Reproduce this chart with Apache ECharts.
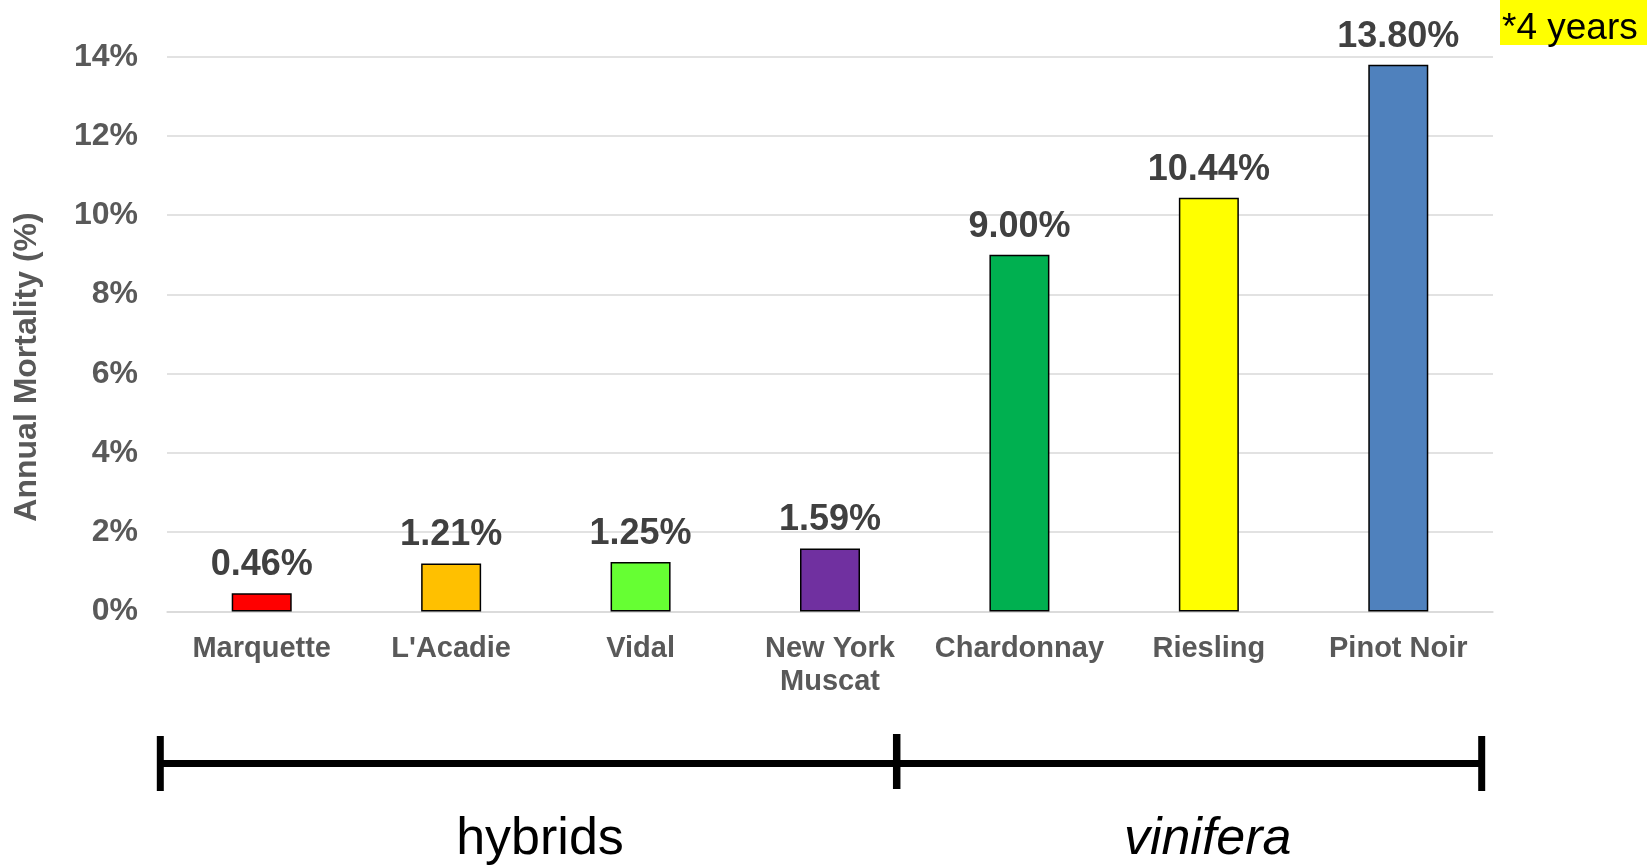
<!DOCTYPE html>
<html>
<head>
<meta charset="utf-8">
<title>Annual Mortality</title>
<script src="https://cdn.jsdelivr.net/npm/echarts@6/dist/echarts.min.js"></script>
<style>
  html, body { margin: 0; padding: 0; background: #ffffff; }
  #chart { width: 1647px; height: 865px; }
</style>
</head>
<body>
<div id="chart"></div>
<script>
// Cultivars, ordered hybrids first, then vinifera
const categories = ['Marquette', "L'Acadie", 'Vidal', 'New York Muscat', 'Chardonnay', 'Riesling', 'Pinot Noir'];
// Annual mortality, percent
const mortality = [0.46, 1.21, 1.25, 1.59, 9.00, 10.44, 13.80];
// One fill per cultivar
const barColors = ['#FF0000', '#FFC000', '#66FF33', '#7030A0', '#00B050', '#FFFF00', '#4F81BD'];
// Value axis ticks
const yTicks = [0, 2, 4, 6, 8, 10, 12, 14];
// Group captions under the bracket
const groupNames = ['hybrids', 'vinifera'];

const FONT = '"Liberation Sans", Arial, Helvetica, sans-serif';

const chart = echarts.init(document.getElementById('chart'), null, { renderer: 'canvas' });

const option = {
  backgroundColor: '#ffffff',
  animation: false,
  grid: { left: 167, right: 154, top: 56.7, bottom: 253.5, containLabel: false },
  xAxis: {
    type: 'category',
    data: categories,
    axisTick: { show: false },
    axisLine: { show: true, lineStyle: { color: '#d9d9d9', width: 1.5 } },
    axisLabel: {
      interval: 0,
      margin: 21,
      color: '#595959',
      fontFamily: FONT,
      fontWeight: 'bold',
      fontSize: 29,
      lineHeight: 33,
      formatter: v => v.length > 11 ? v.replace(/^(\S+ \S+) /, '$1\n') : v
    }
  },
  yAxis: {
    type: 'value',
    min: yTicks[0],
    max: yTicks[yTicks.length - 1],
    interval: yTicks[1] - yTicks[0],
    axisLine: { show: false },
    axisTick: { show: false },
    splitLine: { show: true, lineStyle: { color: '#d9d9d9', width: 1.5 } },
    axisLabel: {
      margin: 29,
      padding: [5, 0, 0, 0],
      color: '#595959',
      fontFamily: FONT,
      fontWeight: 'bold',
      fontSize: 32,
      formatter: v => v + '%'
    }
  },
  series: [{
    type: 'bar',
    barWidth: 60,
    data: mortality.map((v, i) => ({
      value: v,
      itemStyle: { color: barColors[i] }
    })),
    itemStyle: { borderColor: '#000000', borderWidth: 1.5 },
    label: {
      show: true,
      position: 'top',
      distance: 10,
      color: '#404040',
      fontFamily: FONT,
      fontWeight: 'bold',
      fontSize: 36,
      formatter: p => p.value.toFixed(2) + '%'
    }
  }],
  graphic: [
    // vertical axis title
    {
      type: 'text',
      x: 27,
      y: 367,
      rotation: Math.PI / 2,
      style: {
        text: 'Annual Mortality (%)',
        fill: '#595959',
        font: 'bold 32px ' + FONT,
        align: 'center',
        verticalAlign: 'middle'
      }
    },
    // footnote tag in the top right corner
    {
      type: 'rect',
      shape: { x: 1500, y: 0, width: 147, height: 45 },
      style: { fill: '#FFFF00' }
    },
    {
      type: 'text',
      x: 1502,
      y: 28.5,
      style: {
        text: '*4 years',
        fill: '#000000',
        font: '37px ' + FONT,
        align: 'left',
        verticalAlign: 'middle'
      }
    },
    // group bracket
    {
      type: 'line',
      shape: { x1: 160, y1: 763.5, x2: 1481.7, y2: 763.5 },
      style: { stroke: '#000000', lineWidth: 7 }
    },
    {
      type: 'line',
      shape: { x1: 160.3, y1: 736, x2: 160.3, y2: 791 },
      style: { stroke: '#000000', lineWidth: 7 }
    },
    {
      type: 'line',
      shape: { x1: 896.7, y1: 734, x2: 896.7, y2: 789 },
      style: { stroke: '#000000', lineWidth: 7.5 }
    },
    {
      type: 'line',
      shape: { x1: 1481.7, y1: 736, x2: 1481.7, y2: 791 },
      style: { stroke: '#000000', lineWidth: 7 }
    },
    {
      type: 'text',
      x: 540,
      y: 840,
      style: {
        text: groupNames[0],
        fill: '#000000',
        font: '52px ' + FONT,
        align: 'center',
        verticalAlign: 'middle'
      }
    },
    {
      type: 'text',
      x: 1207.7,
      y: 840,
      style: {
        text: groupNames[1],
        fill: '#000000',
        font: 'italic 52px ' + FONT,
        align: 'center',
        verticalAlign: 'middle'
      }
    }
  ]
};

chart.setOption(option);
</script>
</body>
</html>
